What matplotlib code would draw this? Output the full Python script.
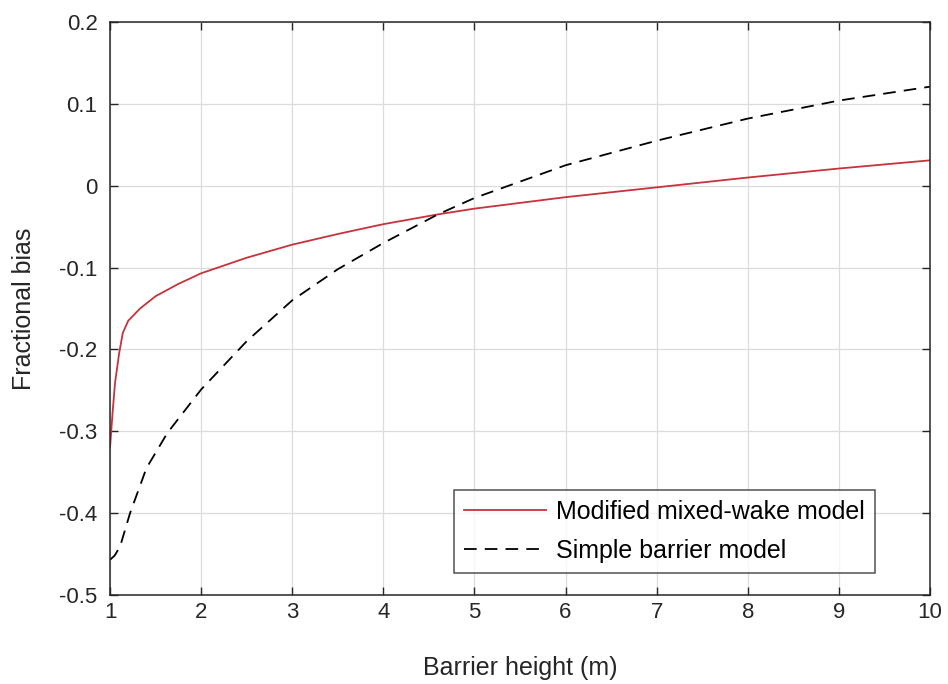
import numpy as np
import matplotlib
matplotlib.use('Agg')
import matplotlib.pyplot as plt

plt.rcParams['font.family'] = ['Liberation Sans', 'DejaVu Sans']

# valores
altura = [1.0, 1.03, 1.055, 1.1, 1.14, 1.2, 1.33, 1.5, 1.75, 2.0, 2.5, 3.0, 3.5, 4.0, 4.6, 5.0, 6.0, 7.0, 8.0, 9.0, 10.0]
mixed_wake = [-0.32, -0.275, -0.241, -0.205, -0.18, -0.165, -0.15, -0.135, -0.12, -0.107, -0.088, -0.072, -0.059, -0.047, -0.035,
              -0.028, -0.014, -0.002, 0.010, 0.021, 0.031]

altura_b = [1.0, 1.05, 1.11, 1.22, 1.4, 1.63, 2.0, 2.5, 3.0, 3.5, 4.0, 4.6, 5.0, 6.0, 7.0, 8.0, 9.0, 10.0]
simple_barrier = [-0.457, -0.452, -0.441, -0.40, -0.345, -0.302, -0.249, -0.19, -0.14, -0.102, -0.07, -0.035, -0.015, 0.025, 0.055,
                  0.082, 0.104, 0.121]

fig = plt.figure(figsize=(9.48, 6.84), dpi=100)
ax = fig.add_axes([110 / 948, 1 - 595 / 684, 820 / 948, 573 / 684])

ax.plot(altura, mixed_wake, color='#c8323c', lw=1.3, label='Modified mixed-wake model')
ax.plot(altura_b, simple_barrier, color='black', lw=1.3, ls=(0, (7, 4.5)), label='Simple barrier model')

ax.set_xlim(1, 10)
ax.set_ylim(-0.5, 0.2)
ax.set_xticks(np.arange(1, 11, 1))
ax.set_yticks(np.arange(-0.5, 0.21, 0.1))
ax.set_yticklabels(['-0.5', '-0.4', '-0.3', '-0.2', '-0.1', '0', '0.1', '0.2'])
ax.grid(True, color='#dcdcdc', lw=0.9)
ax.set_axisbelow(True)
ax.tick_params(direction='in', top=True, right=True, length=6, width=1, labelsize=16, colors='#262626', pad=9)
ax.tick_params(axis='x', pad=5)
for s in ax.spines.values():
    s.set_color('#262626')
    s.set_linewidth(1.1)

ax.set_xlabel('Barrier height (m)', fontsize=18, color='#262626', labelpad=24)
ax.set_ylabel('Fractional bias', fontsize=18, color='#262626', labelpad=17)

leg = ax.legend(loc='lower right', fontsize=18, frameon=True, fancybox=False, edgecolor='#262626',
                handlelength=3.3, handletextpad=0.4, borderaxespad=0.0, bbox_to_anchor=(0.933, 0.038),
                borderpad=0.4, labelspacing=0.6)
leg.get_frame().set_linewidth(1.1)

fig.savefig('out.png', dpi=100)
